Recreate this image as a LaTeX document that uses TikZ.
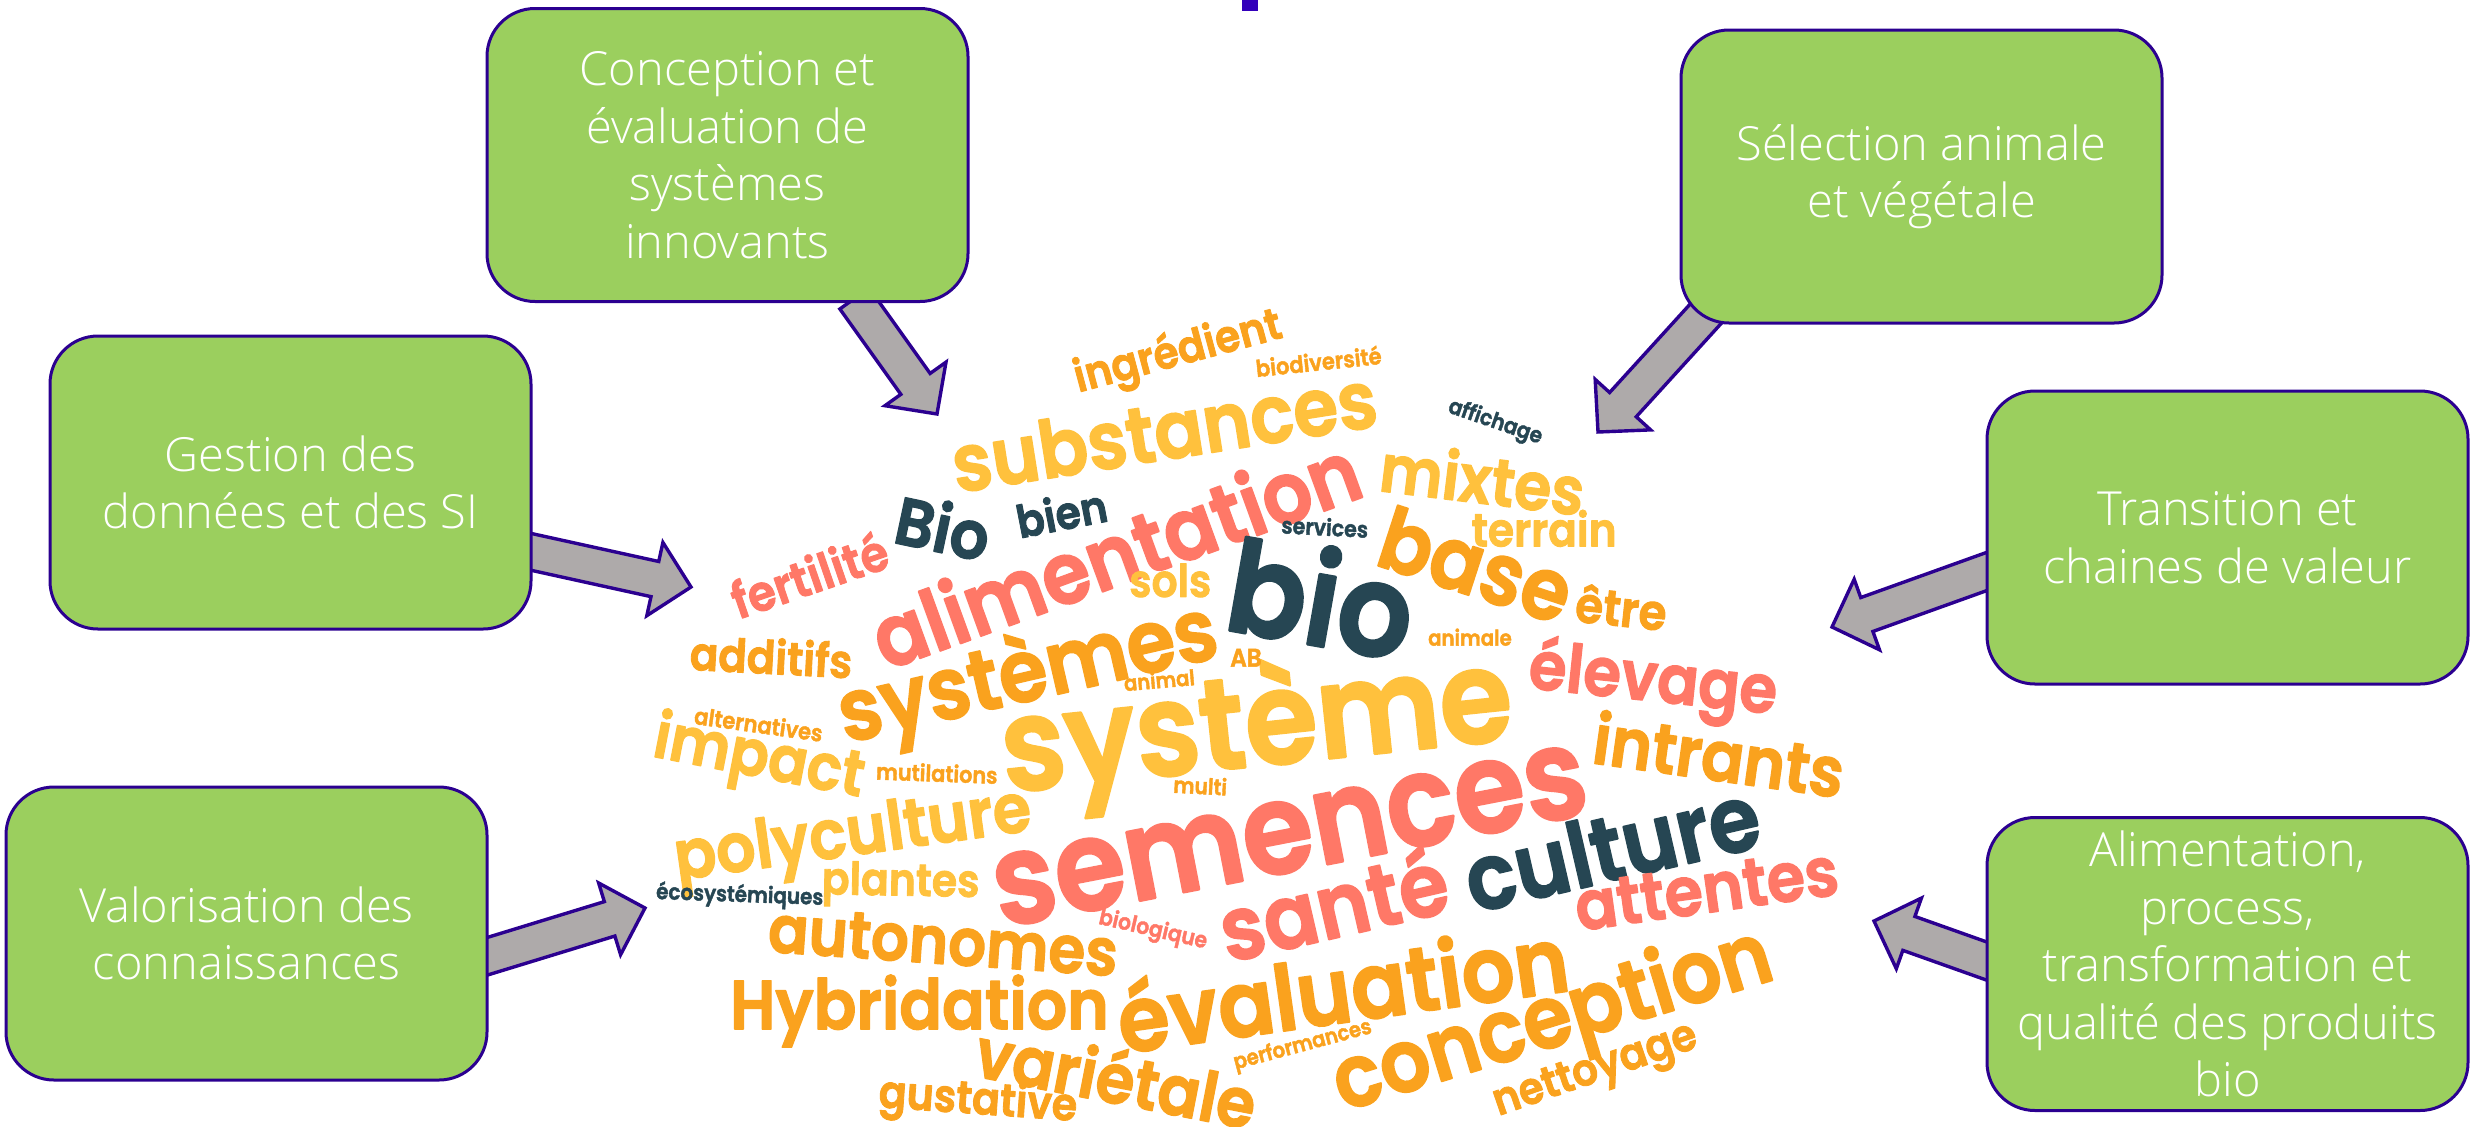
\documentclass[tikz,border=0pt]{standalone}
\usepackage{fontspec}
\usepackage{graphicx}
\usetikzlibrary{calc,backgrounds}
\newfontfamily\boxfont{Open Sans Light}
\newfontfamily\wfont[FakeBold=2]{Poppins SemiBold}
\definecolor{wo}{HTML}{FAA21E}
\definecolor{wy}{HTML}{FFC13D}
\definecolor{ws}{HTML}{FF7867}
\definecolor{wd}{HTML}{264653}
\definecolor{boxgreen}{HTML}{9BCF5E}
\definecolor{edgeblue}{HTML}{2B0090}
\definecolor{arrowgrey}{HTML}{AEAAAA}
\definecolor{titleblue}{HTML}{3300BB}
\newdimen\wunit \wunit=0.7886pt
\tikzset{
  greenbox/.style={rectangle,draw=edgeblue,fill=boxgreen,line width=1.5pt,rounded corners=24pt,
    minimum width=240.5pt,minimum height=146.5pt,inner sep=0pt,outer sep=0pt,text=white,align=center,
    font=\boxfont\fontsize{23.5}{28.75}\selectfont},
  blockarrow/.style={draw=edgeblue,fill=arrowgrey,line width=1.7pt,miter limit=10},
  wordnode/.style={inner sep=0pt,outer sep=0pt},
}
\newcommand{\blockarrow}[2]{%
  \coordinate (H#1#2) at ($(#2)!18.5pt!(#1)$);
  \draw[blockarrow] ($(#1)!9pt!90:(#2)$) -- ($(H#1#2)!9pt!90:(#2)$) -- ($(H#1#2)!18.75pt!90:(#2)$) -- (#2)
    -- ($(H#1#2)!18.75pt!-90:(#2)$) -- ($(H#1#2)!9pt!-90:(#2)$) -- ($(#1)!9pt!-90:(#2)$) -- cycle;}
% name, cx, cy, rotation, width (scaled px), colour, text
\newcommand{\cloudword}[7]{%
  \node[wordnode,text=#6,rotate=#4] (w#1) at (#2,#3) {\scalebox{1}[1.1]{\resizebox{#5\wunit}{!}{\wfont #7}}};}
\begin{document}
\begin{tikzpicture}[x=0.5pt,y=-0.5pt]
\useasboundingbox (0,0) rectangle (2473,1126);
\fill[titleblue] (1242,0) rectangle (1258,11);
\node[greenbox] (b1) at (727.5,155) {Conception et\\évaluation de\\systèmes\\innovants};
\node[greenbox] (b2) at (1921.5,176.5) {Sélection animale\\et végétale};
\node[greenbox] (b3) at (290.5,482.5) {Gestion des\\données et des SI};
\node[greenbox] (b4) at (2227.5,537.5) {Transition et\\chaines de valeur};
\node[greenbox] (b5) at (246.5,933.5) {Valorisation des\\connaissances};
\node[greenbox] (b6) at (2227.5,964) {Alimentation,\\process,\\transformation et\\qualité des produits\\bio};
\coordinate (s1) at ($(b1.south)+(127,-3)$);
\coordinate (t1) at (937,414);
\coordinate (s2) at ($(b2.south west)+(39,-25)$);
\coordinate (t2) at (1598,432);
\coordinate (s3) at ($(b3.east)+(-6,68)$);
\coordinate (t3) at (691,587);
\coordinate (s4) at ($(b4.west)+(8,31)$);
\coordinate (t4) at (1832,627);
\coordinate (s5) at ($(b5.east)+(-7,25)$);
\coordinate (t5) at (645,908);
\coordinate (s6) at ($(b6.west)+(8,0)$);
\coordinate (t6) at (1874,921);
\begin{scope}[on background layer]
\blockarrow{s1}{t1}
\blockarrow{s2}{t2}
\blockarrow{s3}{t3}
\blockarrow{s4}{t4}
\blockarrow{s5}{t5}
\blockarrow{s6}{t6}
\end{scope}
\begin{scope}[x=0.7886pt,y=-0.7886pt,line join=round]
\cloudword{c}{738}{273}{9}{272}{wy}{substances}
\cloudword{e}{940}{303}{-7}{130}{wy}{mixtes}
\cloudword{i}{707}{350}{20}{325}{ws}{alimentation}
\cloudword{k}{838}{378}{-10}{118}{wd}{bio}
\cloudword{l}{936}{358}{-18}{125}{wo}{base}
\cloudword{q}{652}{429}{13}{245}{wo}{systèmes}
\cloudword{s}{1048}{433}{-6}{158}{ws}{élevage}
\cloudword{w}{797}{463}{6}{325}{wy}{système}
\cloudword{x}{481}{482}{-11}{135}{wy}{impact}
\cloudword{aa}{1090}{478}{-8}{160}{wo}{intrants}
\cloudword{ab}{541}{532}{8}{228}{wy}{polyculture}
\cloudword{ac}{818}{530}{11}{382}{ws}{semences}
\cloudword{ad}{1022}{537}{13}{190}{wd}{culture}
\cloudword{ag}{1082}{564}{8}{168}{ws}{attentes}
\cloudword{ah}{845}{572}{13}{147}{ws}{santé}
\cloudword{ai}{598}{597}{-4}{222}{wo}{autonomes}
\cloudword{ak}{583}{641}{0}{240}{wo}{Hybridation}
\cloudword{al}{851}{625}{8}{288}{wo}{évaluation}
\cloudword{am}{985}{649}{17}{288}{wo}{conception}
\cloudword{ao}{708}{682}{-11}{180}{wo}{variétale}
\cloudword{ap}{620}{699}{-4}{126}{wo}{gustative}
\cloudword{aq}{1012}{680}{19}{135}{wo}{nettoyage}
\cloudword{a}{747}{224}{15}{135}{wo}{ingrédient}
\cloudword{b}{836}{229}{6}{80}{wo}{biodiversité}
\cloudword{d}{948}{268}{-19}{62}{wd}{affichage}
\cloudword{f}{979}{335}{0}{92}{wy}{terrain}
\cloudword{g}{598}{334}{-12}{60}{wd}{Bio}
\cloudword{h}{673}{325}{11}{58}{wd}{bien}
\cloudword{j}{840}{334}{-3}{55}{wd}{services}
\cloudword{m}{1028}{385}{-6}{58}{wo}{être}
\cloudword{n}{513}{364}{19}{103}{ws}{fertilité}
\cloudword{o}{742}{368}{0}{52}{wy}{sols}
\cloudword{p}{489}{416}{-3}{103}{wo}{additifs}
\cloudword{r}{932}{404}{0}{53}{wo}{animale}
\cloudword{t}{790}{417}{0}{20}{wo}{AB}
\cloudword{u}{735}{431}{5}{45}{wo}{animal}
\cloudword{v}{481}{459}{-8}{82}{wo}{alternatives}
\cloudword{y}{594}{490}{-2}{77}{wo}{mutilations}
\cloudword{z}{761}{498}{-3}{34}{wo}{multi}
\cloudword{ae}{571}{561}{-1}{100}{wy}{plantes}
\cloudword{af}{469}{568}{-2}{106}{wd}{écosystémiques}
\cloudword{aj}{731}{590}{-13}{70}{ws}{biologique}
\cloudword{an}{826}{663}{15}{90}{wo}{performances}
\end{scope}
\end{tikzpicture}
\end{document}
